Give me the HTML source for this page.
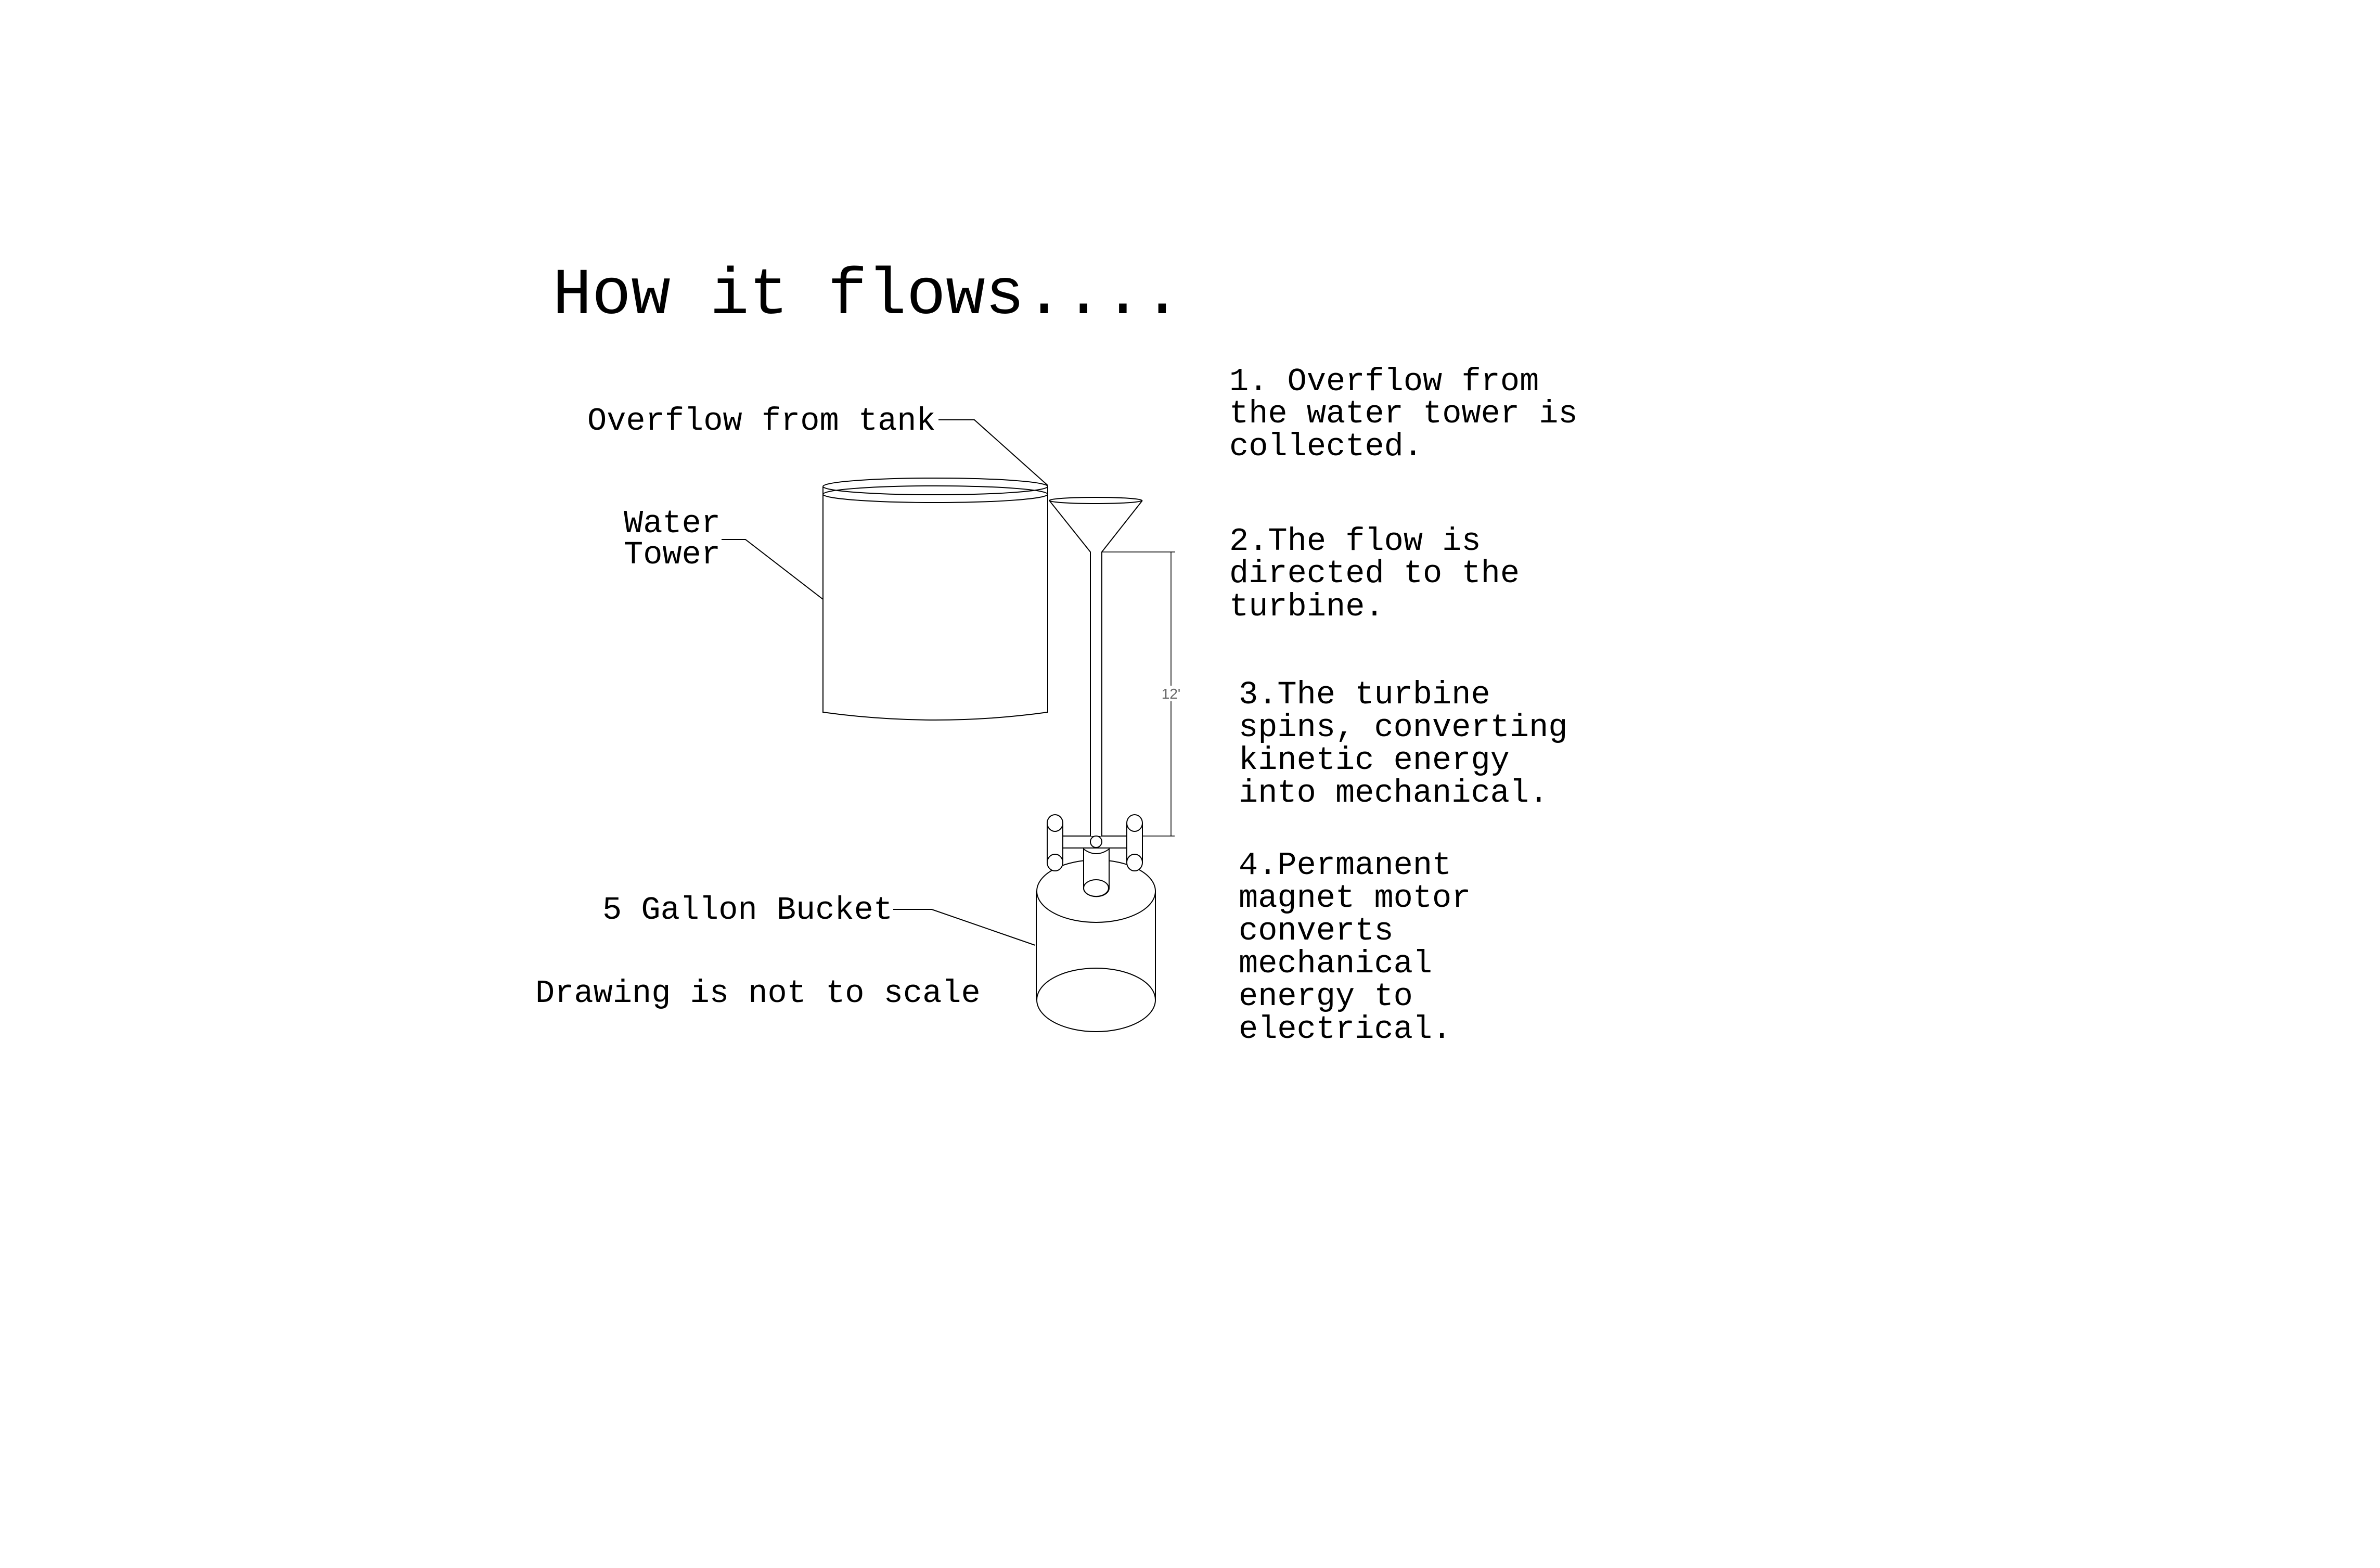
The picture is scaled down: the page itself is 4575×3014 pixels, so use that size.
<!DOCTYPE html>
<html><head><meta charset="utf-8"><style>
html,body{margin:0;padding:0;background:#fff;}
svg{display:block}
text{font-family:"Liberation Mono",monospace;fill:#000}
</style></head><body>
<svg width="4575" height="3014" viewBox="0 0 4575 3014" xmlns="http://www.w3.org/2000/svg">
<rect width="4575" height="3014" fill="#fff"/>
<text x="1062" y="602" font-size="126">How it flows....</text>

<g fill="none" stroke="#000" stroke-width="2">
<!-- water tower -->
<ellipse cx="1798" cy="935" rx="216" ry="16"/>
<ellipse cx="1798" cy="950" rx="216" ry="16"/>
<path d="M1582 936 L1582 1369 Q1798 1399 2014 1369 L2014 936"/>
<!-- overflow leader -->
<path d="M1804 807 L1873 807 L2014 933"/>
<!-- water tower leader -->
<path d="M1387 1037 L1433 1037 L1582 1152"/>
<!-- funnel -->
<ellipse cx="2106" cy="962" rx="89" ry="6"/>
<path d="M2017 962 L2096 1061 L2096 1607"/>
<path d="M2196 962 L2118 1061 L2118 1607"/>
<!-- dimension -->
<path d="M2118 1061 L2259 1061" stroke-width="1.5"/>
<path d="M2251 1061 L2251 1318 M2251 1348 L2251 1607" stroke-width="1.5"/>
<path d="M2118 1607 L2258 1607" stroke-width="1.5"/>
<!-- bucket -->
<ellipse cx="2107" cy="1713" rx="114" ry="60"/>
<path d="M1992 1713 L1992 1922 M2221 1713 L2221 1922"/>
<ellipse cx="2107" cy="1922" rx="114" ry="61"/>
<!-- bucket leader -->
<path d="M1717 1748 L1791 1748 L1990 1817"/>
</g>
<g fill="#fff" stroke="#000" stroke-width="2">
<!-- crossbar -->
<rect x="2043" y="1607" width="123" height="23"/>
<!-- center shaft -->
<path d="M2083 1630 L2083 1707 A24 16 0 0 0 2132 1707 L2132 1630 Z"/>
<ellipse cx="2107" cy="1707" rx="24" ry="16"/>
<path d="M2083 1632 Q2107 1650 2132 1632" fill="none"/>
<rect x="2096" y="1570" width="22" height="37" stroke="none"/>
<path d="M2096 1570 L2096 1607 M2118 1570 L2118 1607" fill="none"/>
<circle cx="2107" cy="1618" r="11"/>
<!-- left post -->
<rect x="2013" y="1582" width="30" height="76"/>
<ellipse cx="2028" cy="1582" rx="15" ry="16"/>
<ellipse cx="2028" cy="1658" rx="15" ry="16"/>
<!-- right post -->
<rect x="2166" y="1582" width="30" height="76"/>
<ellipse cx="2181" cy="1582" rx="15" ry="16"/>
<ellipse cx="2181" cy="1658" rx="15" ry="16"/>
</g>
<text x="2251" y="1343" font-size="28" text-anchor="middle" style="font-family:'Liberation Sans',sans-serif;fill:#666">12'</text>

<g font-size="62">
<text x="1129" y="826">Overflow from tank</text>
<text x="1199" y="1023">Water</text>
<text x="1199" y="1083">Tower</text>
<text x="1158" y="1766">5 Gallon Bucket</text>
<text x="1029" y="1926">Drawing is not to scale</text>

<text x="2363" y="750">1. Overflow from</text>
<text x="2363" y="812">the water tower is</text>
<text x="2363" y="875">collected.</text>

<text x="2363" y="1057">2.The flow is</text>
<text x="2363" y="1119">directed to the</text>
<text x="2363" y="1183">turbine.</text>

<text x="2381" y="1352">3.The turbine</text>
<text x="2381" y="1415">spins, converting</text>
<text x="2381" y="1478">kinetic energy</text>
<text x="2381" y="1541">into mechanical.</text>

<text x="2381" y="1680">4.Permanent</text>
<text x="2381" y="1743">magnet motor</text>
<text x="2381" y="1806">converts</text>
<text x="2381" y="1869">mechanical</text>
<text x="2381" y="1932">energy to</text>
<text x="2381" y="1995">electrical.</text>
</g>
</svg>
</body></html>
